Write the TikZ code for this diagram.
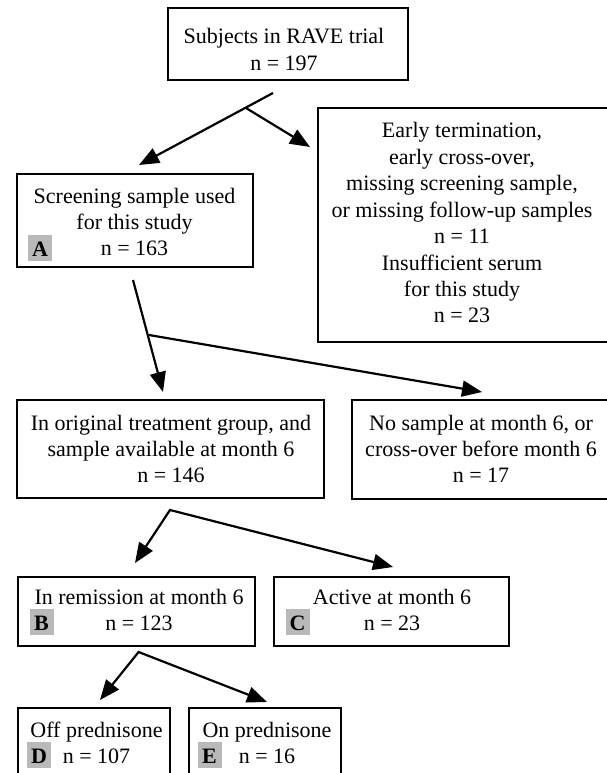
\documentclass[tikz,border=0pt]{standalone}
\usepackage{fontspec}
\setmainfont{Liberation Serif}
\usetikzlibrary{arrows.meta}
\begin{document}
\begin{tikzpicture}[x=1pt,y=-1pt,
  boxst/.style={draw, line width=2.7pt, inner sep=0pt},
  txt/.style={anchor=base, inner sep=0pt, font=\fontsize{22}{26.4}\selectfont},
  lab/.style={anchor=base, fill=gray!55, inner xsep=0pt, inner ysep=2pt, minimum width=24pt, text height=19pt, text depth=3pt, font=\fontsize{22}{26.4}\selectfont\bfseries},
  arr/.style={line width=2.2pt, -{Triangle[length=20pt,width=16pt]}},
  varr/.style={line width=2.2pt, {Triangle[length=20pt,width=16pt]}-{Triangle[length=20pt,width=16pt]}}]
\useasboundingbox (0,0) rectangle (607,773);
\fill[white] (0,0) rectangle (607,773);
\clip (0,0) rectangle (607,773);
% boxes
\node[boxst, minimum width=240pt, minimum height=72pt] (b1) at (288,44) {};
\node[boxst, minimum width=236pt, minimum height=93pt] (b2) at (135,220.5) {};
\node[boxst, minimum width=294pt, minimum height=234pt] (b3) at (465,225) {};
\node[boxst, minimum width=307pt, minimum height=98pt] (b4) at (170.5,449) {};
\node[boxst, minimum width=260pt, minimum height=99pt] (b5) at (482,449.5) {};
\node[boxst, minimum width=237pt, minimum height=69pt] (b6) at (136.5,611.5) {};
\node[boxst, minimum width=235pt, minimum height=69pt] (b7) at (391.5,611.5) {};
\node[boxst, minimum width=152pt, minimum height=82pt] (b8) at (94,749) {};
\node[boxst, minimum width=152pt, minimum height=82pt] (b9) at (265,749) {};
% texts
\node[txt] (t1) at (284,44) {\begin{tabular}[t]{@{}c@{}}Subjects in RAVE trial\\ n = 197\end{tabular}};
\node[txt] (t2) at (134.5,203) {\begin{tabular}[t]{@{}c@{}}Screening sample used\\ for this study\\ n = 163\end{tabular}};
\node[lab] (la) at (40,256) {A};
\node[txt] (t3) at (462,138) {\begin{tabular}[t]{@{}c@{}}Early termination,\\ early cross-over,\\ missing screening sample,\\ or missing follow-up samples\\ n = 11\\ Insufficient serum\\ for this study\\ n = 23\end{tabular}};
\node[txt] (t4) at (171,430) {\begin{tabular}[t]{@{}c@{}}In original treatment group, and\\ sample available at month 6\\ n = 146\end{tabular}};
\node[txt] (t5) at (481,430) {\begin{tabular}[t]{@{}c@{}}No sample at month 6, or\\ cross-over before month 6\\ n = 17\end{tabular}};
\node[txt] (t6) at (139,604) {\begin{tabular}[t]{@{}c@{}}In remission at month 6\\ n = 123\end{tabular}};
\node[lab] (lb) at (41.5,630.4) {B};
\node[txt] (t7) at (392,604) {\begin{tabular}[t]{@{}c@{}}Active at month 6\\ n = 23\end{tabular}};
\node[lab] (lc) at (297.5,630.4) {C};
\node[txt] (t8) at (96.5,737) {\begin{tabular}[t]{@{}c@{}}Off prednisone\\ n = 107\end{tabular}};
\node[lab] (ld) at (39,763.4) {D};
\node[txt] (t9) at (267,737) {\begin{tabular}[t]{@{}c@{}}On prednisone\\ n = 16\end{tabular}};
\node[lab] (le) at (209.5,763.4) {E};
% connectors
\coordinate (s1) at (273,93);
\coordinate (j1) at (246,108);
\coordinate (e1a) at (139,165);
\coordinate (e1b) at (310,147);
\draw[arr] (s1) -- (e1a);
\draw[arr] (j1) -- (e1b);
\coordinate (s2) at (133,280);
\coordinate (j2) at (149,335);
\coordinate (e2a) at (163,392);
\coordinate (e2b) at (482,392);
\draw[arr] (s2) -- (e2a);
\draw[arr] (j2) -- (e2b);
\coordinate (s3) at (170,510);
\coordinate (e3a) at (135,563);
\coordinate (e3b) at (393,567);
\draw[varr] (e3a) -- (s3) -- (e3b);
\coordinate (s4) at (138.6,652);
\coordinate (e4a) at (100,700);
\coordinate (e4b) at (267,702);
\draw[varr] (e4a) -- (s4) -- (e4b);
\end{tikzpicture}
\end{document}
